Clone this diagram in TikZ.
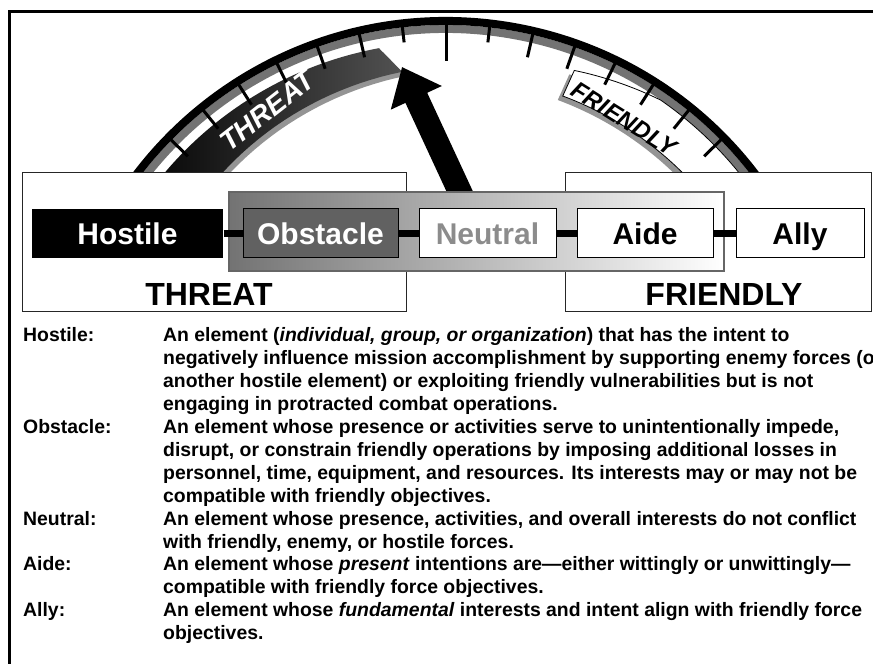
\documentclass[tikz,border=0pt]{standalone}
\usepackage{fontspec}
\setmainfont{Liberation Sans}
\usetikzlibrary{arrows.meta}

\tikzset{
  grpbox/.style={draw=black!85, line width=1pt, fill=white, inner sep=0pt},
  grplabel/.style={anchor=base, inner sep=0pt, font=\fontsize{32}{32}\selectfont\bfseries},
  elembox/.style={draw=black, line width=1pt, minimum height=49pt, inner sep=0pt,
    text height=21.5pt, text depth=0pt, font=\fontsize{30}{30}\selectfont\bfseries},
  link/.style={line width=7pt},
  tickmark/.style={line width=3pt},
  bannertext/.style={inner sep=0pt, font=\bfseries\itshape},
  deflab/.style={anchor=base west, inner sep=0pt, font=\fontsize{19.4}{23}\selectfont\bfseries}
}

\begin{document}
\begin{tikzpicture}[x=1pt,y=1pt]
    \useasboundingbox (0,0) rectangle (873,664);

    % Frame
    \draw[line width=3pt] (9.7,0) -- (9.7,652.7) -- (873,652.7);

    % Gauge
    \begin{scope}[shift={(446,254)}]
        % THREAT banner
        \path[left color=black, right color=black!68,
              preaction={fill=black!42, transform canvas={xshift=4pt,yshift=-4pt}}]
            (100.5:368) arc[start angle=100.5, end angle=150, radius=368]
            -- plot[domain=150:97.4, samples=30] (\x:{341-0.42*(\x-97.4)}) -- cycle;

        % Ring
        \draw[black!55, line width=8pt] (30:381) arc[start angle=30, end angle=150, radius=381];

        % FRIENDLY banner
        \draw[fill=white, line width=0.8pt,
              preaction={fill=black!42, transform canvas={xshift=-5pt,yshift=-4pt}}]
            plot[domain=69.3:55.3, samples=20] (\x:{363+(69.3-\x)})
            -- (55.3:377) arc[start angle=55.3, end angle=36, radius=377]
            -- (36:335) arc[start angle=36, end angle=69.6, radius=335] -- cycle;

        \draw[line width=8pt] (30:389) arc[start angle=30, end angle=150, radius=389];

        % Ticks
        \foreach \k in {-8,...,8} {
            \pgfmathsetmacro{\len}{ifthenelse(\k==0,37,ifthenelse(abs(\k)==1,16,24))}
            \draw[tickmark] ({90+6.5*\k}:386) -- ({90+6.5*\k}:{386-\len});
        }
    \end{scope}

    % Banner words
    \node[bannertext, text=white, rotate=38, font=\fontsize{28}{28}\selectfont\bfseries\itshape]
        (threatword) at (267,553) {THREAT};
    \node[bannertext, rotate=-32, font=\fontsize{24}{24}\selectfont\bfseries\itshape]
        (friendword) at (624,545) {FRIENDLY};

    % Needle
    \coordinate (needlebase) at (466,459);
    \coordinate (needletip) at (402,597);
    \draw[line width=24pt, -{Triangle[length=34pt,width=54pt]}] (needlebase) -- (needletip);

    % Group boxes
    \node[grpbox, minimum width=384pt, minimum height=139pt] (threatgrp) at (214,421.5) {};
    \node[grpbox, minimum width=306pt, minimum height=139pt] (friendgrp) at (718,421.5) {};
    \node[grplabel] (threatlbl) at (209,358) {THREAT};
    \node[grplabel] (friendlbl) at (724,358) {FRIENDLY};
    \node[draw=black!60, line width=1.5pt, inner sep=0pt, minimum width=495pt, minimum height=79pt,
          left color=black!55, middle color=black!22, right color=white] (midgrp) at (476.5,432.5) {};

    % Elements
    \node[elembox, fill=black, draw=none, text=white, minimum width=191pt] (hostile) at (127.5,430.5) {Hostile};
    \node[elembox, fill=black!62, text=white, minimum width=155pt] (obstacle) at (320.5,430.5) {Obstacle};
    \node[elembox, fill=white, text=black!45, minimum width=137pt] (neutral) at (487.5,430.5) {Neutral};
    \node[elembox, fill=white, minimum width=136pt] (aide) at (645,430.5) {Aide};
    \node[elembox, fill=white, minimum width=128pt] (ally) at (800,430.5) {Ally};

    \draw[link] (hostile) -- (obstacle);
    \draw[link] (obstacle) -- (neutral);
    \draw[link] (neutral) -- (aide);
    \draw[link] (aide) -- (ally);

    % Definitions
    \foreach \n/\lab/\txt in {
        0/Hostile:/{An element (\textit{individual, group, or organization}) that has the intent to},
        1//{negatively influence mission accomplishment by supporting enemy forces (o},
        2//{another hostile element) or exploiting friendly vulnerabilities but is not},
        3//{engaging in protracted combat operations.},
        4/Obstacle:/{An element whose presence or activities serve to unintentionally impede,},
        5//{disrupt, or constrain friendly operations by imposing additional losses in},
        6//{personnel, time, equipment, and resources. Its interests may or may not be},
        7//{compatible with friendly objectives.},
        8/Neutral:/{An element whose presence, activities, and overall interests do not conflict},
        9//{with friendly, enemy, or hostile forces.},
        10/Aide:/{An element whose \textit{present} intentions are—either wittingly or unwittingly—},
        11//{compatible with friendly force objectives.},
        12/Ally:/{An element whose \textit{fundamental} interests and intent align with friendly force},
        13//{objectives.}} {
        \node[deflab] (lab\n) at (23,{322-22.9*\n}) {\lab};
        \node[deflab] (def\n) at (163,{322-22.9*\n}) {\txt};
    }
\end{tikzpicture}
\end{document}
